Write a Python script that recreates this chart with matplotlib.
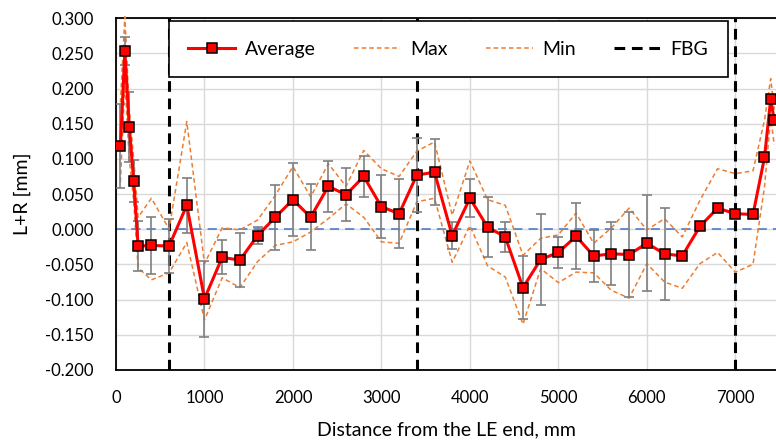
import numpy as np
import matplotlib
matplotlib.use("Agg")
import matplotlib.pyplot as plt
from matplotlib.ticker import MultipleLocator, FormatStrFormatter

# ---------------------------------------------------------------- data
dist = [50, 100, 150, 200, 250, 400, 600, 800, 1000, 1200, 1400, 1600, 1800,
        2000, 2200, 2400, 2600, 2800, 3000, 3200, 3400, 3600, 3800, 4000, 4200,
        4400, 4600, 4800, 5000, 5200, 5400, 5600, 5800, 6000, 6200, 6400, 6600,
        6800, 7000, 7200, 7330, 7400, 7440]
avg = [0.118, 0.253, 0.145, 0.069, -0.024, -0.023, -0.024, 0.034, -0.099,
       -0.040, -0.044, -0.009, 0.017, 0.042, 0.017, 0.061, 0.049, 0.075, 0.032,
       0.022, 0.077, 0.081, -0.009, 0.044, 0.003, -0.011, -0.083, -0.043,
       -0.033, -0.010, -0.038, -0.035, -0.036, -0.020, -0.035, -0.038, 0.004,
       0.030, 0.022, 0.021, 0.102, 0.185, 0.155]
vmax = [0.180, 0.302, 0.170, 0.100, 0.017, 0.044, 0.000, 0.153, -0.049, 0.002,
        -0.001, 0.013, 0.048, 0.089, 0.046, 0.093, 0.061, 0.112, 0.086, 0.075,
        0.111, 0.124, 0.020, 0.097, 0.042, 0.034, -0.037, -0.013, -0.008,
        0.023, -0.020, 0.002, 0.030, -0.001, 0.015, -0.011, 0.041, 0.086,
        0.079, 0.083, 0.155, 0.214, 0.170]
vmin = [0.067, 0.210, 0.100, 0.040, -0.055, -0.072, -0.062, -0.019, -0.129,
        -0.069, -0.083, -0.046, -0.023, -0.018, -0.004, 0.015, 0.036, 0.017,
        -0.018, -0.020, 0.039, 0.044, -0.047, 0.005, -0.052, -0.068, -0.135,
        -0.056, -0.076, -0.061, -0.062, -0.087, -0.098, -0.049, -0.075, -0.084,
        -0.049, -0.033, -0.061, -0.050, 0.060, 0.160, 0.120]
err = [0.060, 0.020, 0.050, 0.030, 0.036, 0.040, 0.038, 0.039, 0.054, 0.024,
       0.038, 0.012, 0.046, 0.052, 0.047, 0.036, 0.038, 0.029, 0.045, 0.049,
       0.052, 0.047, 0.019, 0.027, 0.043, 0.021, 0.045, 0.065, 0.022, 0.047,
       0.037, 0.045, 0.060, 0.068, 0.065, None, None, None, None, None, None,
       None, None]
fbg = [600, 3400, 7000]

# ---------------------------------------------------------------- style
plt.rcParams.update({
    "font.family": ["Lato", "DejaVu Sans"],
    "font.size": 12,
})
C_AVG = "#FF0000"
C_MM = "#ED7D31"
C_ZERO = "#4472C4"
C_ERR = "#7F7F7F"
C_GRID = "#D9D9D9"

fig = plt.figure(figsize=(7.76, 4.43), dpi=100)
ax = fig.add_axes([0.1495, 0.165, 0.8505, 0.794])

x = np.array(dist, float)
e = np.array([np.nan if v is None else v for v in err], float)
ok = np.isfinite(e)

ax.axhline(0, color=C_ZERO, lw=1.1, ls=(0, (6, 4)), zorder=2)
for xf in fbg:
    ax.axvline(xf, color="black", lw=2.2, ls=(0, (3.5, 2.2)), zorder=3)

ax.plot(x, vmax, color=C_MM, lw=1.1, ls=(0, (3, 2)), zorder=3, clip_on=False,
        label="Max")
ax.plot(x, vmin, color=C_MM, lw=1.1, ls=(0, (3, 2)), zorder=3, label="Min")
ax.errorbar(x[ok], np.array(avg)[ok], yerr=e[ok], fmt="none", ecolor=C_ERR,
            elinewidth=1.2, capsize=3.5, capthick=1.2, zorder=4)
ax.plot(x, avg, color=C_AVG, lw=2.2, marker="s", ms=7.5, mfc=C_AVG,
        mec="black", mew=1.1, zorder=5, label="Average")
ax.plot([], [], color="black", lw=2.2, ls=(0, (3.5, 2.2)), label="FBG")

# ---------------------------------------------------------------- axes
ax.set_xlim(0, 7460)
ax.set_ylim(-0.2, 0.3)
ax.xaxis.set_major_locator(MultipleLocator(1000))
ax.yaxis.set_major_locator(MultipleLocator(0.05))
ax.yaxis.set_major_formatter(FormatStrFormatter("%.3f"))
ax.tick_params(length=0)
ax.tick_params(axis="y", pad=16)
ax.tick_params(axis="x", pad=14.5)
ax.grid(True, color=C_GRID, lw=1.0, zorder=0)
ax.set_axisbelow(True)
ax.spines["right"].set_visible(False)
for s in ("left", "bottom", "top"):
    ax.spines[s].set_linewidth(1.3)
ax.set_xlabel("Distance from the LE end, mm", fontsize=14, labelpad=11)
ax.set_ylabel("L+R [mm]", fontsize=14, labelpad=10)

h, l = ax.get_legend_handles_labels()
order = [l.index(k) for k in ("Average", "Max", "Min", "FBG")]
leg = ax.legend([h[i] for i in order], [l[i] for i in order], ncol=4,
                loc="upper left", bbox_to_anchor=(0.080, 0.824, 0.847, 0.167),
                mode="expand", frameon=True, fancybox=False, framealpha=1,
                edgecolor="black", fontsize=14, handlelength=2.4,
                handletextpad=0.5, borderpad=1.0, borderaxespad=0)
leg.get_frame().set_linewidth(1.2)
leg.set_zorder(10)

fig.savefig("out.png", dpi=100)
